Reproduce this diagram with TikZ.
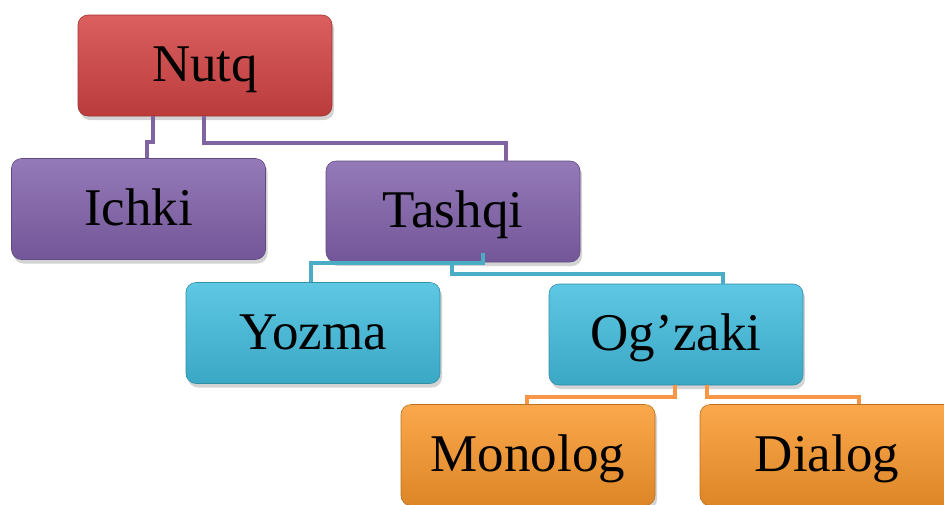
\documentclass[tikz,border=0pt]{standalone}
\usepackage{fontspec}
\setmainfont{Liberation Serif}
\usetikzlibrary{shadows,calc}
\definecolor{redM}{HTML}{D44343}
\definecolor{purM}{HTML}{8262AC}
\definecolor{cyaM}{HTML}{42BEDF}
\definecolor{oraM}{HTML}{FA982C}
\definecolor{purL}{HTML}{8064A2}
\definecolor{cyaL}{HTML}{4BACC6}
\definecolor{oraL}{HTML}{F79646}
\tikzset{
  box/.style={rounded corners=10pt, minimum width=254pt, minimum height=101pt,
    inner sep=0pt, text height=40pt, text depth=8pt,
    font=\fontsize{53}{60}\selectfont, text=black, line width=0.6pt,
    drop shadow={opacity=0.35, shadow xshift=2pt, shadow yshift=-4pt}},
  fillbox/.style={box, top color=#1!85!white, middle color=#1, bottom color=#1!88!black, draw=#1!75!black},
  redbox/.style={fillbox=redM},
  purbox/.style={fillbox=purM},
  cyabox/.style={fillbox=cyaM},
  orabox/.style={fillbox=oraM},
  conn/.style={line width=4pt},
}
\begin{document}
\begin{tikzpicture}[x=1pt,y=-1pt]
\useasboundingbox (0,0) rectangle (944,504);
\clip (0,0) rectangle (944,504);
\coordinate (c1) at (153,116);
\coordinate (c2) at (204,116);
\coordinate (c3) at (483,253);
\coordinate (c4) at (452,262);
\coordinate (c5) at (675,385);
\coordinate (c6) at (707,385);
\node[redbox] (nutq) at (205,65.5) {Nutq};
\node[purbox] (ichki) at (138.5,209) {Ichki};
\node[purbox] (tashqi) at (453,211.5) {Tashqi};
\node[cyabox] (yozma) at (313,333) {Yozma};
\node[cyabox] (ogzaki) at (676,334.5) {Og’zaki};
\node[orabox] (monolog) at (528,455) {Monolog};
\node[orabox] (dialog) at (827,455) {Dialog};
\draw[conn, purL] (c1) -- (153,142) -- (147,142) -- (ichki.north -| 147,0);
\draw[conn, purL] (c2) |- (506,143) -- (tashqi.north -| 506,0);
\draw[conn, cyaL] (c3) |- (311,263) -- (yozma.north -| 311,0);
\draw[conn, cyaL] (c4) |- (723,274) -- (ogzaki.north -| 723,0);
\draw[conn, oraL] (c5) |- (527,397) -- (monolog.north -| 527,0);
\draw[conn, oraL] (c6) |- (859,397) -- (dialog.north -| 859,0);
\end{tikzpicture}
\end{document}
